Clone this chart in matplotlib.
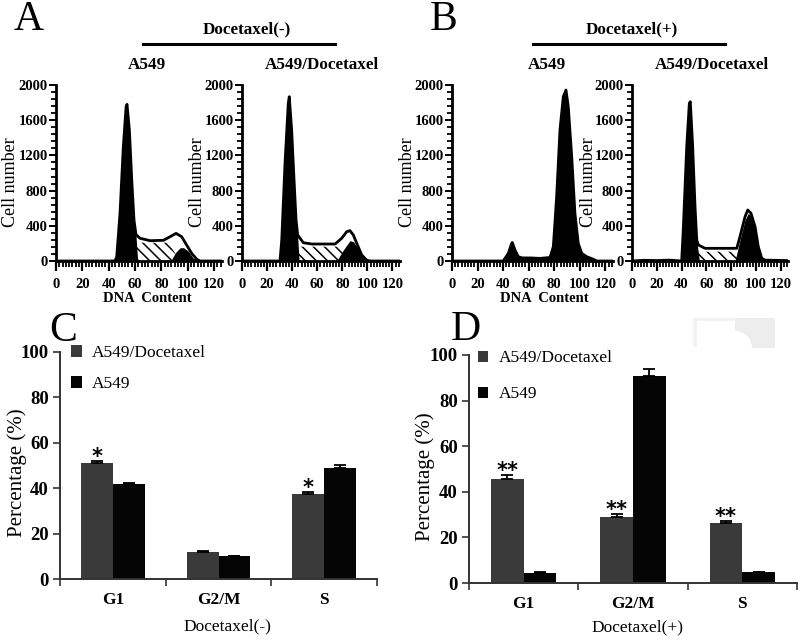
import matplotlib
matplotlib.use('Agg')
import matplotlib.pyplot as plt
import numpy as np
from matplotlib.ticker import MultipleLocator
from matplotlib.patches import Patch, Rectangle, Wedge
from matplotlib.lines import Line2D
from matplotlib.transforms import IdentityTransform

plt.rcParams['font.family'] = ['Liberation Serif', 'DejaVu Serif']
plt.rcParams['hatch.linewidth'] = 1.1

# ---------------- histogram data (DNA content, cell number) ----------------
# A: Docetaxel(-), A549
a1_env_x = [0, 44.8, 46.1, 48.6, 51.1, 53.2, 53.9, 55.7, 57.5, 59.2, 60.7, 63.8, 71.4, 81.5, 86.6, 91.1, 95.4, 99.2, 103.0, 106.8, 109.3, 126]
a1_env_y = [0, 0, 50, 545, 1300, 1750, 1780, 1490, 920, 466, 300, 258, 231, 235, 276, 314, 276, 180, 87, 20, 0, 0]
a1_g1_x = [44.8, 46.1, 48.6, 51.1, 53.2, 53.9, 55.7, 57.5, 59.2, 60.7, 62.0]
a1_g1_y = [0, 50, 545, 1300, 1750, 1780, 1490, 920, 466, 290, 0]
a1_s_x = [59.0, 60.7, 85.3, 94.2]
a1_s_y = [0, 208, 208, 0]
a1_g2_x = [87.0, 91.0, 94.2, 96.8, 100.5, 104.0, 107.5]
a1_g2_y = [0, 100, 150, 152, 110, 35, 0]

# A: Docetaxel(-), A549/Docetaxel
a2_env_x = [0, 30.3, 31.7, 34.3, 36.9, 37.7, 39.6, 41.5, 43.1, 44.4, 48.9, 55.6, 74.2, 79.5, 83.5, 86.1, 88.8, 91.5, 95.5, 99.4, 102.0, 126]
a2_env_y = [0, 0, 239, 1110, 1792, 1867, 1489, 920, 466, 295, 208, 193, 193, 258, 333, 345, 295, 201, 68, 10, 0, 0]
a2_g1_x = [30.3, 31.7, 34.3, 36.9, 37.7, 39.6, 41.5, 43.1, 44.4, 45.5]
a2_g1_y = [0, 239, 1110, 1792, 1867, 1489, 920, 466, 280, 0]
a2_s_x = [43.5, 44.4, 80.7, 84.8]
a2_s_y = [0, 163, 163, 0]
a2_g2_x = [75.5, 80.8, 86.1, 88.8, 91.5, 95.5, 99.4]
a2_g2_y = [0, 125, 231, 220, 163, 57, 0]

# B: Docetaxel(+), A549
b1_env_x = [0, 40.1, 44.1, 46.7, 47.2, 49.3, 51.9, 55.0, 61.0, 68.9, 76.7, 79.3, 81.9, 84.5, 87.1, 89.2, 91.0, 93.7, 96.2, 98.8, 101.5, 105.4, 110.6, 113.2, 126]
b1_env_y = [0, 0, 87, 201, 210, 125, 49, 35, 35, 30, 40, 163, 731, 1489, 1867, 1943, 1754, 1185, 542, 201, 87, 49, 20, 0, 0]

# B: Docetaxel(+), A549/Docetaxel
b2_env_x = [0, 10, 20, 30, 40.1, 41.4, 44.2, 46.3, 47.1, 49.0, 50.9, 52.3, 53.6, 59.0, 75.1, 84.6, 87.2, 91.3, 93.5, 96.1, 99.4, 102.0, 104.8, 107.4, 115, 126]
b2_env_y = [0, 8, 5, 10, 0, 352, 1299, 1792, 1810, 1299, 617, 239, 182, 144, 144, 144, 276, 503, 580, 542, 390, 163, 30, 10, 8, 5]
b2_g1_x = [40.1, 41.4, 44.2, 46.3, 47.1, 49.0, 50.9, 52.3, 53.6, 54.5]
b2_g1_y = [0, 352, 1299, 1792, 1810, 1299, 617, 239, 87, 0]
b2_s_x = [52.3, 53.0, 84.6, 87.2]
b2_s_y = [0, 106, 106, 0]
b2_g2_x = [83.2, 87.2, 91.3, 93.9, 96.7, 99.4, 102.0, 104.8]
b2_g2_y = [0, 239, 466, 542, 503, 352, 125, 0]

# ---------------- bar data ----------------
phases = ['G1', 'G2/M', 'S']
series_names = ['A549/Docetaxel', 'A549']
c_resist = [51.0, 12.0, 37.5]
c_resist_err = [1.0, 0.4, 0.8]
c_parent = [42.0, 10.0, 49.0]
c_parent_err = [0.5, 0.3, 1.2]
c_marks = ['*', '', '*']
d_resist = [45.5, 29.0, 26.5]
d_resist_err = [1.8, 1.3, 0.8]
d_parent = [4.2, 91.0, 4.8]
d_parent_err = [0.5, 3.0, 0.2]
d_marks = ['**', '**', '**']

W, H = 800, 640
fig = plt.figure(figsize=(8, 6.4), dpi=100)


def frect(x0, y_bottom, w, h):
    return [x0 / W, 1 - y_bottom / H, w / W, h / H]


def ftext(x, y, s, **kw):
    fig.text(x / W, 1 - y / H, s, **kw)


def hist_panel(rect, env_x, env_y, fills, hatch_xy=None):
    ax = fig.add_axes(rect)
    if hatch_xy is not None:
        ax.fill_between(hatch_xy[0], 0, hatch_xy[1], facecolor='white',
                        edgecolor='black', hatch='\\\\\\', linewidth=0)
    for fx, fy in fills:
        ax.fill_between(fx, 0, fy, color='black', linewidth=0)
    ax.plot(env_x, env_y, color='black', lw=2.0, solid_joinstyle='round')
    ax.set_xlim(0, 126)
    ax.set_ylim(0, 2000)
    for s in ['top', 'right']:
        ax.spines[s].set_visible(False)
    for s in ['left', 'bottom']:
        ax.spines[s].set_linewidth(2.0)
    ax.set_xticks(np.arange(0, 121, 20))
    ax.xaxis.set_minor_locator(MultipleLocator(2.5))
    ax.set_yticks(np.arange(0, 2001, 400))
    ax.yaxis.set_minor_locator(MultipleLocator(80))
    ax.tick_params(axis='x', which='major', length=7, width=1.6, pad=5, labelsize=10.5)
    ax.tick_params(axis='x', which='minor', length=4, width=1.3)
    ax.tick_params(axis='y', which='major', length=5, width=1.4, pad=1, labelsize=10.5)
    ax.tick_params(axis='y', which='minor', length=3.5, width=1.3)
    for lab in ax.get_xticklabels() + ax.get_yticklabels():
        lab.set_fontweight('bold')
    ax.set_ylabel('Cell number', fontsize=13)
    ax.yaxis.set_label_coords(-0.225, 0.45)
    return ax


hist_panel(frect(56, 261, 166, 176), a1_env_x, a1_env_y,
           [(a1_g1_x, a1_g1_y), (a1_g2_x, a1_g2_y)], (a1_s_x, a1_s_y))
hist_panel(frect(242, 261, 158, 176), a2_env_x, a2_env_y,
           [(a2_g1_x, a2_g1_y), (a2_g2_x, a2_g2_y)], (a2_s_x, a2_s_y))
hist_panel(frect(452, 261, 161, 176), b1_env_x, b1_env_y,
           [(b1_env_x, b1_env_y)])
hist_panel(frect(632, 261, 156, 176), b2_env_x, b2_env_y,
           [(b2_g1_x, b2_g1_y), (b2_g2_x, b2_g2_y)], (b2_s_x, b2_s_y))

# panel headers
ftext(14, 30, 'A', fontsize=30, va='baseline', ha='left')
ftext(430, 30, 'B', fontsize=30, va='baseline', ha='left')
ftext(247, 29, 'Docetaxel(-)', fontsize=12.3, fontweight='bold', ha='center', va='center')
ftext(632, 29, 'Docetaxel(+)', fontsize=12.3, fontweight='bold', ha='center', va='center')
fig.add_artist(Line2D([143 / W, 335 / W], [1 - 44 / H, 1 - 44 / H], color='black', lw=2.2))
fig.add_artist(Line2D([533 / W, 725 / W], [1 - 44 / H, 1 - 44 / H], color='black', lw=2.2))
ftext(147, 65, 'A549', fontsize=12.3, fontweight='bold', ha='center', va='center')
ftext(322, 65, 'A549/Docetaxel', fontsize=12.3, fontweight='bold', ha='center', va='center')
ftext(547, 65, 'A549', fontsize=12.3, fontweight='bold', ha='center', va='center')
ftext(712, 65, 'A549/Docetaxel', fontsize=12.3, fontweight='bold', ha='center', va='center')
ftext(147, 298, 'DNA  Content', fontsize=10.5, fontweight='bold', ha='center', va='center')
ftext(544, 298, 'DNA  Content', fontsize=10.5, fontweight='bold', ha='center', va='center')


def bar_panel(rect, resist, resist_err, parent, parent_err, marks, xlabel,
              xlabel_xy, leg_anchor, leg_spacing):
    ax = fig.add_axes(rect)
    x = np.arange(len(phases))
    w = 0.3
    ekw = dict(elinewidth=1.3, capthick=1.3, ecolor='black')
    ax.bar(x - w / 2, resist, w, color='#3a3a3a',
           yerr=[np.zeros(len(resist)), resist_err], capsize=4, error_kw=ekw)
    ax.bar(x + w / 2, parent, w, color='#050505',
           yerr=[np.zeros(len(parent)), parent_err], capsize=4, error_kw=ekw)
    for xi, top, e, m in zip(x, resist, resist_err, marks):
        if m:
            ax.text(xi - w / 2, top + e - 1.0, m, ha='center', va='baseline',
                    fontsize=15, family='DejaVu Sans', fontweight='bold')
    ax.set_xlim(-0.5, 2.5)
    ax.set_ylim(0, 100)
    for s in ['top', 'right']:
        ax.spines[s].set_visible(False)
    for s in ['left', 'bottom']:
        ax.spines[s].set_linewidth(1.4)
        ax.spines[s].set_color('#333333')
    ax.set_xticks([-0.5, 0.5, 1.5, 2.5])
    ax.set_xticklabels([])
    ax.set_xticks(x, minor=True)
    ax.set_xticklabels(phases, minor=True, fontweight='bold', fontsize=12.5)
    ax.tick_params(axis='x', which='major', length=5, width=1.2, color='#333333')
    ax.tick_params(axis='x', which='minor', length=0, pad=9)
    ax.set_yticks(np.arange(0, 101, 20))
    ax.tick_params(axis='y', length=5, width=1.2, color='#333333', labelsize=13.5, pad=3)
    for lab in ax.get_yticklabels():
        lab.set_fontweight('bold')
    ax.set_ylabel('Percentage (%)', fontsize=15)
    ax.yaxis.set_label_coords(-0.105, 0.467)
    ax.set_xlabel(xlabel, fontsize=12.5)
    ax.xaxis.set_label_coords(*xlabel_xy)
    handles = [Patch(facecolor='#3a3a3a'), Patch(facecolor='#050505')]
    ax.legend(handles, series_names, loc='upper left', bbox_to_anchor=leg_anchor,
              frameon=False, handlelength=0.6, handleheight=0.65, handletextpad=0.6,
              labelspacing=leg_spacing, borderpad=0, borderaxespad=0,
              prop=dict(family='Liberation Serif', size=12.5))
    return ax


bar_panel(frect(60, 579, 317, 227), c_resist, c_resist_err, c_parent, c_parent_err,
          c_marks, 'Docetaxel(-)', (0.527, -0.175), (0.035, 1.03), 0.85)
bar_panel(frect(469, 583, 328, 228), d_resist, d_resist_err, d_parent, d_parent_err,
          d_marks, 'Docetaxel(+)', (0.515, -0.16), (0.027, 1.02), 1.15)

ftext(49, 341, 'C', fontsize=30, va='baseline', ha='left')
ftext(451, 340, 'D', fontsize=30, va='baseline', ha='left')

# faint grey scan artefact in panel D
idt = IdentityTransform()
fig.add_artist(Rectangle((735, H - 348), 40, 30, transform=idt, facecolor='#ededed', edgecolor='none'))
fig.add_artist(Wedge((735, H - 348), 17, 0, 90, transform=idt, facecolor='white', edgecolor='none'))
fig.add_artist(Rectangle((693, H - 321), 42, 3, transform=idt, facecolor='#f2f2f2', edgecolor='none'))
fig.add_artist(Rectangle((693, H - 347), 4, 29, transform=idt, facecolor='#f2f2f2', edgecolor='none'))

fig.savefig('out.png', dpi=100)
